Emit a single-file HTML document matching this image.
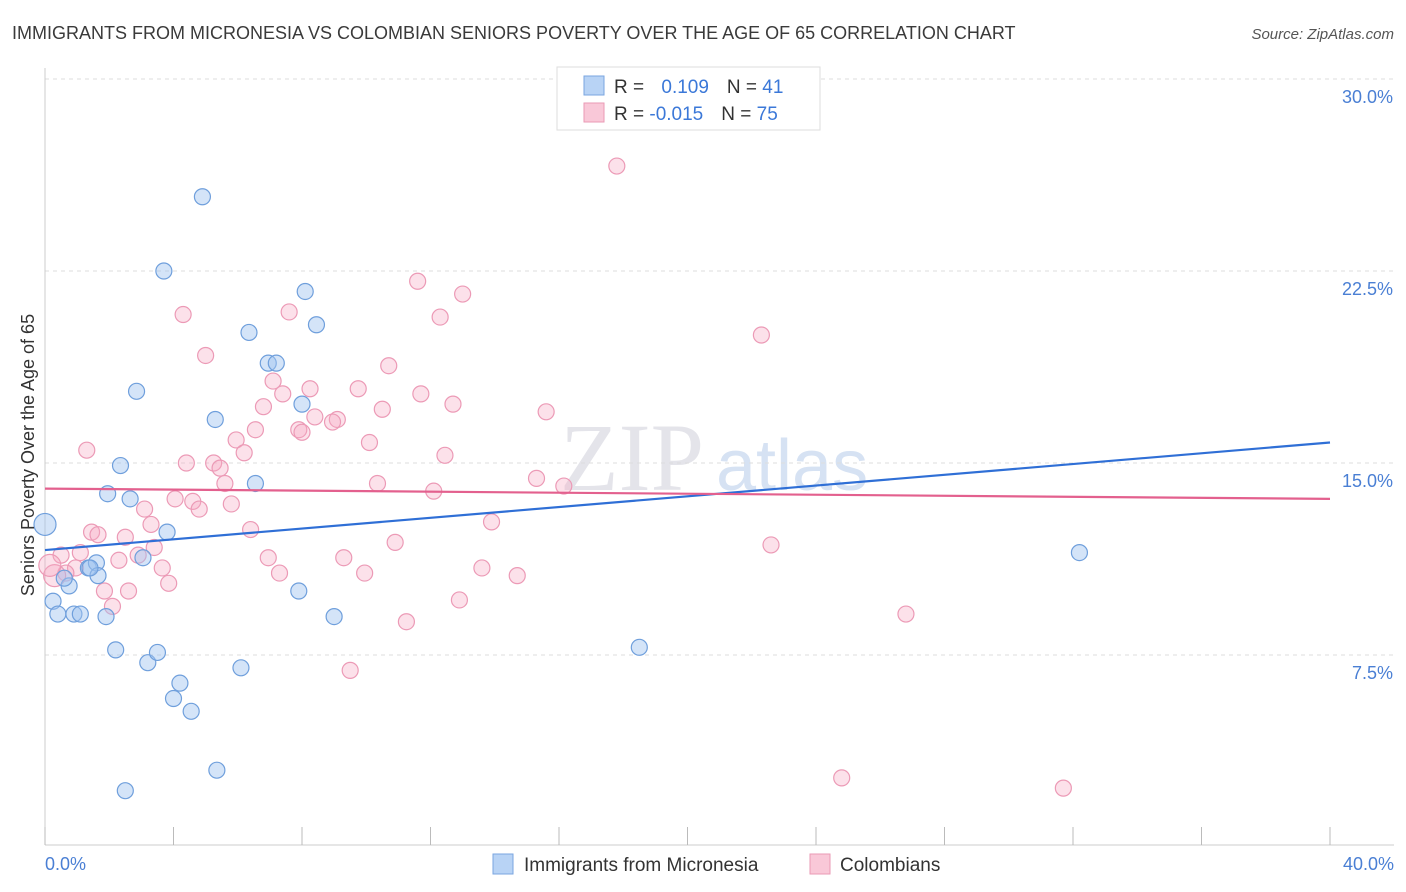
<!DOCTYPE html>
<html><head><meta charset="utf-8">
<style>
body{margin:0;background:#fff;font-family:"Liberation Sans",sans-serif;}
svg{display:block}
</style></head>
<body>
<svg id="chart" width="1406" height="892">
<text x="12" y="39" font-size="18" fill="#3a3a3a">IMMIGRANTS FROM MICRONESIA VS COLOMBIAN SENIORS POVERTY OVER THE AGE OF 65 CORRELATION CHART</text>
<text x="1394" y="39" font-size="15" fill="#555" font-style="italic" text-anchor="end">Source: ZipAtlas.com</text>
<text x="560" y="490" font-size="96" fill="#e4e4ea" font-family="Liberation Serif,serif">ZIP</text>
<text x="716" y="490" font-size="72" fill="#d6e2f3">atlas</text>
<g id="grid"></g>
<g id="axes"></g>
<g id="pts"></g>
<g id="trends"></g>
<text transform="translate(34,455) rotate(-90)" font-size="18" fill="#333" text-anchor="middle">Seniors Poverty Over the Age of 65</text>
<text x="45" y="870" font-size="18" fill="#4a7fd4">0.0%</text>
<text x="1394" y="870" font-size="18" fill="#4a7fd4" text-anchor="end">40.0%</text>
<g>
<rect x="557" y="67" width="263" height="63" fill="#fff" stroke="#ddd"/>
<rect x="584" y="76" width="20" height="19" fill="#b8d3f5" stroke="#7aa6e0"/>
<rect x="584" y="103" width="20" height="19" fill="#f9c8d8" stroke="#ea9ab5"/>
<text x="614" y="93" font-size="19" fill="#333">R = <tspan fill="#3b78d8" dx="12">0.109</tspan><tspan dx="18" fill="#333">N = </tspan><tspan fill="#3b78d8">41</tspan></text>
<text x="614" y="120" font-size="19" fill="#333">R = <tspan fill="#3b78d8">-0.015</tspan><tspan dx="18" fill="#333">N = </tspan><tspan fill="#3b78d8">75</tspan></text>
</g>
<g>
<rect x="493" y="854" width="20" height="20" fill="#b8d3f5" stroke="#7aa6e0"/>
<text x="524" y="871" font-size="19" fill="#333">Immigrants from Micronesia</text>
<rect x="810" y="854" width="20" height="20" fill="#f9c8d8" stroke="#ea9ab5"/>
<text x="840" y="871" font-size="19" fill="#333">Colombians</text>
</g>
</svg>
<script>
const yTicks=[7.5,15.0,22.5,30.0];
const xTicks=[0,4,8,12,16,20,24,28,32,36,40];
const blueX=[0,0.25,0.4,0.75,0.6,0.9,1.1,1.35,1.6,1.65,1.9,1.95,2.2,2.35,2.5,2.65,2.85,3.05,3.2,3.5,3.7,3.8,4.0,4.2,4.55,4.9,5.3,5.35,6.1,6.35,6.55,6.95,7.2,7.9,8.0,8.1,8.45,9.0,18.5,32.2,1.4];
const blueY=[12.6,9.6,9.1,10.2,10.5,9.1,9.1,10.9,11.1,10.6,9.0,13.8,7.7,14.9,2.2,13.6,17.8,11.3,7.2,7.6,22.5,12.3,5.8,6.4,5.3,25.4,16.7,3.0,7.0,20.1,14.2,18.9,18.9,10.0,17.3,21.7,20.4,9.0,7.8,11.5,10.9];
const pinkX=[17.8,11.6,13.0,4.3,7.6,12.3,22.3,5.0,10.7,7.1,7.4,8.25,9.75,11.7,12.7,6.8,10.5,8.4,15.6,9.1,8.95,6.55,7.9,8.0,5.95,10.1,1.3,6.2,12.45,4.4,5.25,5.45,5.6,10.35,12.1,15.3,16.15,4.05,4.6,4.8,5.8,3.1,3.3,6.4,13.9,1.45,1.65,2.5,3.4,10.9,22.6,6.95,9.3,2.9,2.3,1.1,0.5,0.95,0.65,3.65,7.3,9.95,13.6,14.7,3.85,1.85,2.6,2.1,12.9,11.25,26.8,9.5,24.8,31.7,0.3,0.15];
const pinkY=[26.6,22.1,21.6,20.8,20.9,20.7,20.0,19.2,18.8,18.2,17.7,17.9,17.9,17.7,17.3,17.2,17.1,16.8,17.0,16.7,16.6,16.3,16.3,16.2,15.9,15.8,15.5,15.4,15.3,15.0,15.0,14.8,14.2,14.2,13.9,14.4,14.1,13.6,13.5,13.2,13.4,13.2,12.6,12.4,12.7,12.3,12.2,12.1,11.7,11.9,11.8,11.3,11.3,11.4,11.2,11.5,11.4,10.9,10.7,10.9,10.7,10.7,10.9,10.6,10.3,10.0,10.0,9.4,9.65,8.8,9.1,6.9,2.7,2.3,10.6,11.0];
const blueTrend=[11.6,15.8];
const pinkTrend=[14.0,13.6];
const X=v=>45+v*32.125, Y=v=>847-v*25.6;
const NS='http://www.w3.org/2000/svg';
function mk(t,a,p){const e=document.createElementNS(NS,t);for(const k in a)e.setAttribute(k,a[k]);p.appendChild(e);return e;}
const grid=document.getElementById('grid'),axes=document.getElementById('axes'),pts=document.getElementById('pts'),tr=document.getElementById('trends');
yTicks.forEach(t=>{
 const l=mk('line',{x1:45,x2:1394,y1:Y(t),y2:Y(t),stroke:'#ddd','stroke-dasharray':'4,4'},grid);
 
 
 const tx=mk('text',{x:1393,y:Y(t)+24,'font-size':18,fill:'#4a7fd4','text-anchor':'end'},grid);
 tx.textContent=t.toFixed(1)+'%';
 
 
});
const ax=mk('line',{x1:45,x2:1394,y1:845,y2:845,stroke:'#ccc'},axes);


const ay=mk('line',{x1:45,x2:45,y1:68,y2:845,stroke:'#ccc'},axes);


xTicks.forEach(t=>{
 const l=mk('line',{x1:X(t),x2:X(t),y1:827,y2:845,stroke:'#bbb'},axes);
 
 
});
pinkX.forEach((x,i)=>{
 const big=i>=pinkX.length-2;
 const c=mk('circle',{cx:X(x),cy:Y(pinkY[i]),r:big?11:8,fill:'rgba(246,170,196,0.35)',stroke:'#ec9ab6','stroke-width':1.2},pts);
 
 
});
blueX.forEach((x,i)=>{
 const c=mk('circle',{cx:X(x),cy:Y(blueY[i]),r:i==0?11:8,fill:'rgba(160,195,240,0.45)',stroke:'#6f9fdc','stroke-width':1.2},pts);
 
 
});
const bt=mk('line',{x1:X(0),y1:Y(blueTrend[0]),x2:X(40),y2:Y(blueTrend[1]),stroke:'#2f6fd6','stroke-width':2.2},tr);


const pt=mk('line',{x1:X(0),y1:Y(pinkTrend[0]),x2:X(40),y2:Y(pinkTrend[1]),stroke:'#e3608e','stroke-width':2.2},tr);


</script>
</body></html>
